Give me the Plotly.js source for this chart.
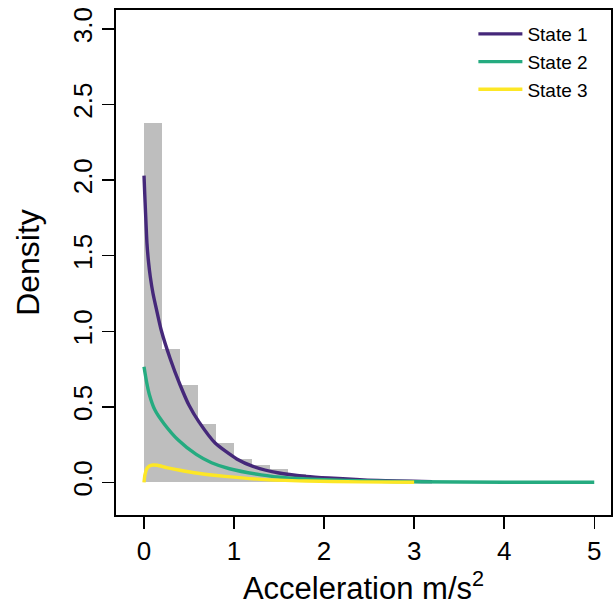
<!DOCTYPE html>
<html>
<head>
<meta charset="utf-8">
<script src="https://cdn.plot.ly/plotly-3.0.1.min.js"></script>
<style>html,body{margin:0;padding:0;background:#fff;}#chart{width:613px;height:612px;}</style>
</head>
<body>
<div id="chart"></div>
<script>
// Histogram (bin width 0.2)
const binStarts = [0, 0.2, 0.4, 0.6, 0.8, 1.0, 1.2, 1.4, 1.6, 1.8, 2.0, 2.2, 2.4, 2.6, 2.8, 3.0];
const binDensity = [2.377, 0.884, 0.646, 0.386, 0.26, 0.155, 0.117, 0.088, 0.055, 0.04, 0.029, 0.022, 0.016, 0.012, 0.009, 0.006];
const binWidth = 0.2;

// State 1 density curve
const s1x = [0, 0.008, 0.016, 0.033, 0.05, 0.07, 0.1, 0.14, 0.19, 0.29, 0.40, 0.5, 0.61, 0.79, 1.03, 1.21, 1.5, 1.8, 2.05, 2.6, 3.2];
const s1y = [2.03, 1.91, 1.80, 1.58, 1.46, 1.36, 1.25, 1.14, 1.01, 0.82, 0.646, 0.51, 0.40, 0.26, 0.155, 0.106, 0.062, 0.04, 0.029, 0.012, 0.005];

// State 2 density curve
const s2x = [0, 0.03, 0.06, 0.12, 0.22, 0.38, 0.58, 0.75, 0.95, 1.3, 1.6, 2.0, 2.5, 3.0, 4.0, 5.0];
const s2y = [0.765, 0.66, 0.58, 0.48, 0.39, 0.28, 0.185, 0.13, 0.09, 0.05, 0.03, 0.018, 0.009, 0.004, 0.001, 0.0003];

// State 3 density curve
const s3x = [0, 0.01, 0.03, 0.06, 0.1, 0.15, 0.25, 0.4, 0.6, 0.9, 1.3, 1.8, 2.4, 3.0];
const s3y = [0, 0.05, 0.09, 0.108, 0.115, 0.113, 0.098, 0.08, 0.06, 0.04, 0.02, 0.009, 0.003, 0.001];

const xTicks = [0, 1, 2, 3, 4, 5];
const yTicks = [0, 0.5, 1, 1.5, 2, 2.5, 3];
const yTickText = ['0.0', '0.5', '1.0', '1.5', '2.0', '2.5', '3.0'];

const FONT = 'Liberation Sans, Arial, sans-serif';

const traces = [
  {
    type: 'bar',
    x: binStarts.map(b => b + binWidth / 2),
    y: binDensity,
    width: binStarts.map(() => binWidth),
    marker: {color: 'rgb(190,190,190)', line: {width: 0}},
    showlegend: false,
    hoverinfo: 'skip'
  },
  {type: 'scatter', mode: 'lines', name: 'State 1', x: s1x, y: s1y,
   line: {color: '#45287A', width: 3.4, shape: 'spline', smoothing: 0.6}},
  {type: 'scatter', mode: 'lines', name: 'State 2', x: s2x, y: s2y,
   line: {color: '#25AB80', width: 3.4, shape: 'spline', smoothing: 0.6}},
  {type: 'scatter', mode: 'lines', name: 'State 3', x: s3x, y: s3y,
   line: {color: '#FDE725', width: 3.4, shape: 'spline', smoothing: 0.6}}
];

const layout = {
  width: 613, height: 612,
  margin: {l: 116, r: 2, t: 10, b: 97},
  paper_bgcolor: '#fff', plot_bgcolor: '#fff',
  bargap: 0,
  font: {family: FONT, color: '#000'},
  xaxis: {
    range: [-0.311, 5.186],
    tickvals: xTicks, ticktext: xTicks.map(String),
    ticks: 'outside', ticklen: 12, tickwidth: 1.5, tickcolor: '#000',
    showline: true, mirror: true, linecolor: '#000', linewidth: 2,
    showgrid: false, zeroline: false,
    tickfont: {size: 26, family: FONT},
    title: {text: 'Acceleration m/s<sup>2</sup>', font: {size: 31, family: FONT}, standoff: 6}
  },
  yaxis: {
    range: [-0.216, 3.126],
    tickvals: yTicks, ticktext: yTickText,
    tickangle: -90,
    ticks: 'outside', ticklen: 12, tickwidth: 1.5, tickcolor: '#000',
    showline: true, mirror: true, linecolor: '#000', linewidth: 2,
    showgrid: false, zeroline: false,
    tickfont: {size: 26, family: FONT},
    title: {text: 'Density', font: {size: 32, family: FONT}, standoff: 18}
  },
  legend: {
    x: 0.722, y: 0.99, xanchor: 'left', yanchor: 'top',
    bgcolor: 'rgba(0,0,0,0)', borderwidth: 0,
    font: {size: 19, family: FONT},
    itemwidth: 44,
    tracegroupgap: 0
  },
  showlegend: true
};

Plotly.newPlot('chart', traces, layout, {displayModeBar: false, staticPlot: true});
</script>
</body>
</html>
